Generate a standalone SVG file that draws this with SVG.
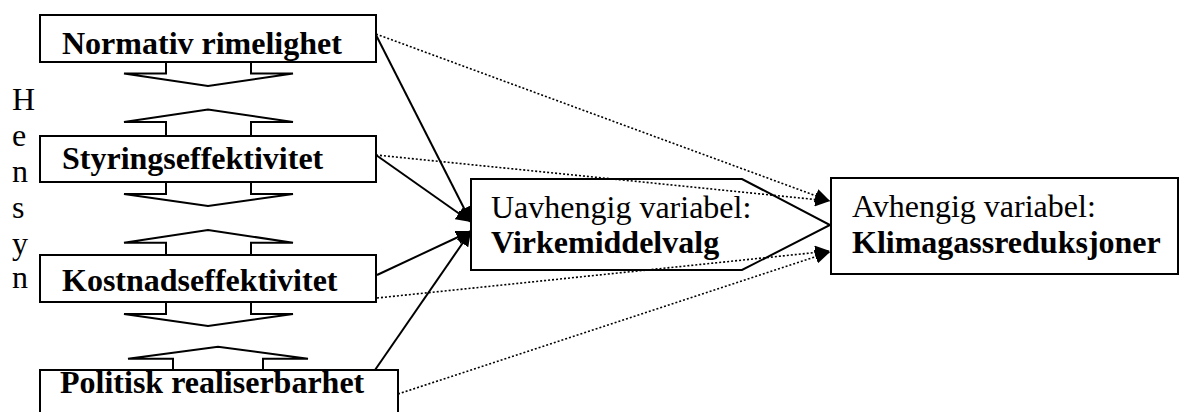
<svg xmlns="http://www.w3.org/2000/svg" width="1179" height="412" viewBox="0 0 1179 412">
<style>
.box{fill:#fff;stroke:#000;stroke-width:2}
.ba{fill:#fff;stroke:#000;stroke-width:2;stroke-linejoin:miter}
.t{font-family:"Liberation Serif","Times New Roman",serif;font-size:32px;fill:#000}
.b{font-weight:bold}
.solid{stroke:#000;stroke-width:2;fill:none}
.dot{stroke:#000;stroke-width:1.6;fill:none;stroke-dasharray:2 2}
</style>
<defs>
<marker id="ah" markerUnits="userSpaceOnUse" markerWidth="16" markerHeight="14" refX="15" refY="7" orient="auto">
<path d="M0,0 L15,7 L0,14 z" fill="#000"/>
</marker>
</defs>
<rect width="1179" height="412" fill="#fff"/>

<g id="hensyn">
<text class="t" x="12" y="110">H</text>
<text class="t" x="12" y="146">e</text>
<text class="t" x="12" y="182">n</text>
<text class="t" x="12" y="218">s</text>
<text class="t" x="12" y="254">y</text>
<text class="t" x="12" y="288">n</text>
</g>

<g id="block-arrows">
<polyline class="ba" points="166,62 166,73.5 124,73.5 208,86 293,73.5 251,73.5 251,62"/>
<polyline class="ba" points="166,136 166,122 124,122 208,109.5 293,122 251,122 251,136"/>
<polyline class="ba" points="166,182 166,194 124,194 208,206 293,194 251,194 251,182"/>
<polyline class="ba" points="166,255 166,242.7 124,242.7 208,230 293,242.7 251,242.7 251,255"/>
<polyline class="ba" points="166,302 166,314 124,314 208,326 293,314 251,314 251,302"/>
<polyline class="ba" points="173,370 173,358.7 128,358.7 218,346.7 308,358.7 263,358.7 263,370"/>
</g>

<g id="n1">
<rect class="box" x="40" y="15" width="336" height="47"/>
<text class="t b" x="62" y="54">Normativ rimelighet</text>
</g>
<g id="n2">
<rect class="box" x="40" y="136" width="336" height="46"/>
<text class="t b" x="62" y="169">Styringseffektivitet</text>
</g>
<g id="n3">
<rect class="box" x="40" y="255" width="336" height="47"/>
<text class="t b" x="62" y="291">Kostnadseffektivitet</text>
</g>
<g id="n4">
<rect class="box" x="40" y="370" width="358" height="52"/>
<text class="t b" x="60" y="393">Politisk realiserbarhet</text>
</g>

<g id="uavhengig">
<path class="box" d="M471,179 L742,179 L830,225 L742,270 L471,270 Z"/>
<text class="t" x="491" y="218">Uavhengig variabel:</text>
<text class="t b" x="491" y="253">Virkemiddelvalg</text>
</g>

<g id="avhengig">
<rect class="box" x="831" y="178" width="347" height="96"/>
<text class="t" x="852" y="217">Avhengig variabel:</text>
<text class="t b" x="852" y="253">Klimagassreduksjoner</text>
</g>

<g id="connectors">
<line class="solid" x1="376" y1="35" x2="471" y2="222" marker-end="url(#ah)"/>
<line class="solid" x1="376" y1="155" x2="471" y2="222" marker-end="url(#ah)"/>
<line class="solid" x1="377" y1="275" x2="471" y2="231" marker-end="url(#ah)"/>
<line class="solid" x1="375" y1="370" x2="471" y2="231" marker-end="url(#ah)"/>
<line class="dot" x1="376" y1="34" x2="830" y2="201" marker-end="url(#ah)"/>
<line class="dot" x1="376" y1="155" x2="830" y2="201" marker-end="url(#ah)"/>
<line class="dot" x1="377" y1="298" x2="830" y2="251" marker-end="url(#ah)"/>
<line class="dot" x1="398" y1="394" x2="830" y2="252" marker-end="url(#ah)"/>
</g>
</svg>
